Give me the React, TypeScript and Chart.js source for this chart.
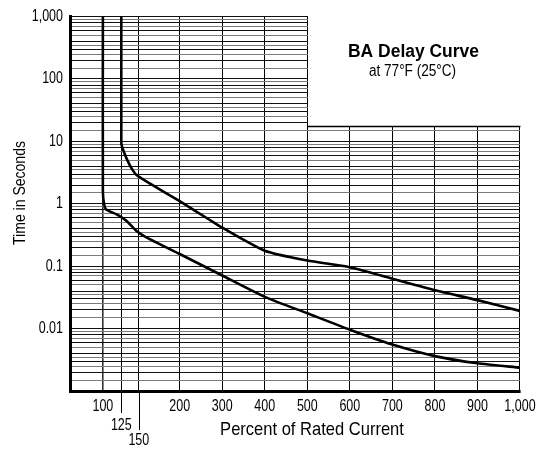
import React, { useEffect, useRef } from 'react';
import { Chart, registerables, LinearScale, LogarithmicScale } from 'chart.js';

// ---------- data ----------
const lowerCurveX = [100, 100, 101.7, 104.4, 118.8, 132.6, 146.7, 163.3, 200, 300, 400, 500, 600, 700, 800, 900, 1000];
const lowerCurveY = [1000, 1.58, 0.98, 0.81, 0.675, 0.53, 0.367, 0.271, 0.157, 0.071, 0.0323, 0.0176, 0.0096, 0.00555, 0.00362, 0.00278, 0.00237];

const upperCurveX = [125, 125, 125.5, 127.8, 132.6, 139.7, 146.7, 163.3, 200, 269, 300, 400, 500, 600, 700, 800, 900, 1000];
const upperCurveY = [1000, 10, 8.75, 7.2, 5.3, 3.69, 2.9, 2.13, 1.1, 0.56, 0.414, 0.177, 0.123, 0.0964, 0.063, 0.0412, 0.0286, 0.0192];

const xTickValues = [100, 125, 150, 200, 300, 400, 500, 600, 700, 800, 900, 1000];
const xTickLabels = ['100', '125', '150', '200', '300', '400', '500', '600', '700', '800', '900', '1,000'];
const yMajorValues = [1000, 100, 10, 1, 0.1, 0.01];
const yMajorLabels = ['1,000', '100', '10', '1', '0.1', '0.01'];
const yMinorMultipliers = [1, 1.5, 2, 2.5, 3, 3.5, 4, 5, 6, 7, 8, 9];

const chartTitle = 'BA Delay Curve';
const chartSubtitle = 'at 77\u00B0F (25\u00B0C)';
const xTitle = 'Percent of Rated Current';
const yTitle = 'Time in Seconds';

// ---------- styling / scale shape ----------
const FONT = "'Liberation Sans', Arial, sans-serif";
const TICK_SX = 0.78; // horizontal condensing of tick text
const X_MIN = 100 - (19.4 + 57.9) / 1.732; // left edge of the plot in percent
const STRETCH: [number, number][] = [[100, 19.4], [125, 62.7], [150, 103.9], [200, 200]];
const GRID_STEP_X = 500;
const GRID_STEP_Y = 17.5;
const DROP_LINES: Record<number, number> = { 125: 1, 150: 2 };

function toVirtual(v: number): number {
  const k = STRETCH;
  if (v >= k[k.length - 1][0]) return v;
  if (v <= k[0][0]) {
    const s = (k[1][1] - k[0][1]) / (k[1][0] - k[0][0]);
    return k[0][1] - (k[0][0] - v) * s;
  }
  for (let i = 0; i < k.length - 1; i++) {
    if (v <= k[i + 1][0]) {
      const t = (v - k[i][0]) / (k[i + 1][0] - k[i][0]);
      return k[i][1] + t * (k[i + 1][1] - k[i][1]);
    }
  }
  return v;
}
function fromVirtual(u: number): number {
  const k = STRETCH;
  if (u >= k[k.length - 1][1]) return u;
  if (u <= k[0][1]) {
    const s = (k[1][1] - k[0][1]) / (k[1][0] - k[0][0]);
    return k[0][0] - (k[0][1] - u) / s;
  }
  for (let i = 0; i < k.length - 1; i++) {
    if (u <= k[i + 1][1]) {
      const t = (u - k[i][1]) / (k[i + 1][1] - k[i][1]);
      return k[i][0] + t * (k[i + 1][0] - k[i][0]);
    }
  }
  return u;
}

// draw labels horizontally condensed (narrow type face look)
function withCondensedText(ctx: any, sx: number, fn: () => void) {
  const orig = ctx.fillText;
  ctx.fillText = function (text: string, x: number, y: number, maxWidth?: number) {
    this.save();
    this.scale(sx, 1);
    if (maxWidth === undefined) orig.call(this, text, x / sx, y);
    else orig.call(this, text, x / sx, y, maxWidth / sx);
    this.restore();
  };
  try {
    fn();
  } finally {
    delete ctx.fillText;
    if (ctx.fillText !== orig) ctx.fillText = orig;
  }
}

class StretchScale extends LinearScale {
  static id = 'stretch';
  static defaults = LinearScale.defaults;
  getPixelForValue(value: number) {
    return super.getPixelForValue(toVirtual(value));
  }
  getValueForPixel(pixel: number) {
    return fromVirtual(super.getValueForPixel(pixel) as number);
  }
  drawLabels(area: any) {
    withCondensedText(this.ctx, TICK_SX, () => super.drawLabels(area));
  }
}

class NarrowLogScale extends LogarithmicScale {
  static id = 'narrowLog';
  static defaults = LogarithmicScale.defaults;
  drawLabels(area: any) {
    withCondensedText(this.ctx, TICK_SX, () => super.drawLabels(area));
  }
}

Chart.register(...registerables, StretchScale as any, NarrowLogScale as any);

function significand(v: number) {
  const e = Math.floor(Math.log10(v) + 1e-9);
  return v / Math.pow(10, e);
}

function condensedText(ctx: any, text: string, x: number, y: number, sx: number) {
  ctx.save();
  ctx.translate(x, y);
  ctx.scale(sx, 1);
  ctx.fillText(text, 0, 0);
  ctx.restore();
}

const overlayPlugin = {
  id: 'overlay',
  beforeDatasetsDraw(chart: any) {
    const { ctx, chartArea } = chart;
    const xs = chart.scales.x;
    const ys = chart.scales.y;
    const px = Math.round(xs.getPixelForValue(GRID_STEP_X));
    const py = Math.round(ys.getPixelForValue(GRID_STEP_Y));
    ctx.save();
    ctx.fillStyle = '#ffffff';
    ctx.fillRect(px + 1, 0, chart.width - px, py);
    ctx.strokeStyle = '#000';
    ctx.lineWidth = 1.5;
    ctx.beginPath();
    ctx.moveTo(px, py + 0.5);
    ctx.lineTo(chartArea.right + 0.5, py + 0.5);
    ctx.stroke();
    ctx.restore();
  },
  afterDraw(chart: any) {
    const { ctx, chartArea } = chart;
    const xs = chart.scales.x;
    ctx.save();
    ctx.strokeStyle = '#000';
    ctx.lineWidth = 1;
    Object.keys(DROP_LINES).forEach((k) => {
      const v = Number(k);
      const x = Math.round(xs.getPixelForValue(v)) + 0.5;
      const len = DROP_LINES[v] === 1 ? 22 : 39;
      ctx.beginPath();
      ctx.moveTo(x, chartArea.bottom);
      ctx.lineTo(x, chartArea.bottom + len);
      ctx.stroke();
    });
    ctx.fillStyle = '#000';
    ctx.textAlign = 'center';
    ctx.textBaseline = 'middle';
    ctx.font = `bold 18px ${FONT}`;
    condensedText(ctx, chartTitle, 413.5, 52, 0.97);
    ctx.font = `16px ${FONT}`;
    condensedText(ctx, chartSubtitle, 412.5, 72, 0.85);
    ctx.font = `19px ${FONT}`;
    condensedText(ctx, xTitle, 312, 430, 0.87);
    ctx.save();
    ctx.translate(20, 193);
    ctx.rotate(-Math.PI / 2);
    ctx.font = `16.5px ${FONT}`;
    condensedText(ctx, yTitle, 0, 0, 0.85);
    ctx.restore();
    ctx.restore();
  },
};

export default function App() {
  const ref = useRef<HTMLCanvasElement | null>(null);
  useEffect(() => {
    if (!ref.current) return;
    const toPts = (xs: number[], ys: number[]) => xs.map((x, i) => ({ x, y: ys[i] }));
    const chart = new Chart(ref.current, {
      type: 'line',
      data: {
        datasets: [
          {
            label: 'Lower',
            data: toPts(lowerCurveX, lowerCurveY),
            borderColor: '#000',
            borderWidth: 2.6,
            pointRadius: 0,
            tension: 0.2,
            fill: false,
          },
          {
            label: 'Upper',
            data: toPts(upperCurveX, upperCurveY),
            borderColor: '#000',
            borderWidth: 2.6,
            pointRadius: 0,
            tension: 0.2,
            fill: false,
          },
        ],
      },
      options: {
        animation: false,
        responsive: true,
        maintainAspectRatio: false,
        layout: { padding: { top: 13, right: 22, left: 0, bottom: 0 } },
        plugins: { legend: { display: false }, tooltip: { enabled: false }, title: { display: false } },
        scales: {
          x: {
            type: 'stretch' as any,
            min: toVirtual(X_MIN),
            max: 1000,
            bounds: 'data',
            afterBuildTicks: (s: any) => {
              s.ticks = xTickValues.map((v) => ({ value: v }));
            },
            afterFit: (s: any) => {
              s.height = 62;
            },
            grid: {
              drawTicks: false,
              color: (c: any) => (c.tick && c.tick.value === 100 ? '#333' : '#000'),
              lineWidth: (c: any) => (c.tick && c.tick.value === 100 ? 1.6 : 1),
            },
            border: { display: true, color: '#000', width: 3 },
            ticks: {
              autoSkip: false,
              maxRotation: 0,
              minRotation: 0,
              padding: 6,
              color: '#000',
              font: (c: any) => ({
                family: FONT,
                size: 16,
                lineHeight: c.tick && c.tick.value === 150 ? 1.1 : 1.2,
              }),
              callback: (_v: any, i: number) => {
                const v = xTickValues[i];
                const drop = DROP_LINES[v] || 0;
                if (!drop) return xTickLabels[i];
                const arr: string[] = [];
                for (let k = 0; k < drop; k++) arr.push('');
                arr.push(xTickLabels[i]);
                return arr;
              },
            },
          } as any,
          y: {
            type: 'narrowLog' as any,
            min: 0.001,
            max: 1000,
            afterBuildTicks: (s: any) => {
              const t: any[] = [];
              for (let e = -3; e < 3; e++) {
                yMinorMultipliers.forEach((m) => t.push({ value: +(m * Math.pow(10, e)).toPrecision(3) }));
              }
              t.push({ value: 1000 });
              s.ticks = t;
            },
            afterFit: (s: any) => {
              s.width = 70;
            },
            grid: {
              drawTicks: false,
              color: (c: any) => {
                if (!c.tick) return '#000';
                const m = significand(c.tick.value);
                const i = yMinorMultipliers.findIndex((q) => Math.abs(q - m) < 1e-6);
                return i % 2 === 0 ? '#111' : '#7a7a7a';
              },
              lineWidth: 1,
            },
            border: { display: true, color: '#000', width: 3 },
            ticks: {
              autoSkip: false,
              padding: 7,
              color: '#000',
              font: { family: FONT, size: 16 },
              callback: (v: any) => {
                const idx = yMajorValues.findIndex((m) => Math.abs(m - Number(v)) / m < 1e-6);
                return idx >= 0 ? yMajorLabels[idx] : '';
              },
            },
          } as any,
        },
      },
      plugins: [overlayPlugin],
    });
    return () => chart.destroy();
  }, []);
  return (
    <div style={{ position: 'fixed', left: 0, top: 0, width: 546, height: 453, background: '#fff' }}>
      <canvas ref={ref} />
    </div>
  );
}
